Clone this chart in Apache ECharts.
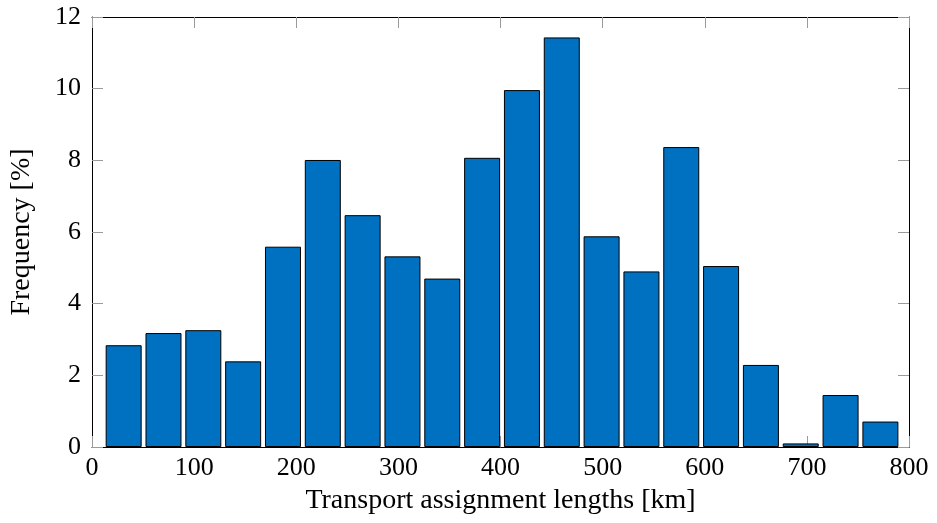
<!DOCTYPE html>
<html>
<head>
<meta charset="utf-8">
<script src="https://cdn.jsdelivr.net/npm/echarts@6/dist/echarts.min.js"></script>
<style>
    html, body { margin: 0; padding: 0; background: #fff; }
    #chart { width: 937px; height: 523px; }
</style>
</head>
<body>
<div id="chart"></div>
<script>
// bin centres [km] and frequency per bin [%]
const binCenters = [31, 70, 109, 148, 187, 226, 265, 304, 343, 382, 421, 460, 499, 538, 577, 616, 655, 694, 733, 772]
const frequencies = [2.84, 3.18, 3.26, 2.39, 5.59, 8.01, 6.47, 5.32, 4.70, 8.07, 9.96, 11.43, 5.88, 4.90, 8.37, 5.05, 2.29, 0.10, 1.45, 0.71]
const xRange = [0, 800, 100]
const yRange = [0, 12, 2]

const font = '"Liberation Serif", "Times New Roman", serif'

let myChart = echarts.init(document.getElementById('chart'))

let tickStyle = { show: true, inside: true, length: 11, lineStyle: { color: '#9a9a9a', width: 1 } }
let lineStyle = { show: true, onZero: false, lineStyle: { color: '#000', width: 1 } }

let option = {
    animation: false,
    grid: { left: 91, right: 28, top: 17, bottom: 76, containLabel: false },
    xAxis: [{
        type: 'value',
        min: xRange[0], max: xRange[1], interval: xRange[2],
        position: 'bottom',
        name: 'Transport assignment lengths [km]',
        nameLocation: 'middle',
        nameGap: 40,
        nameTextStyle: { fontFamily: font, fontSize: 28, color: '#000' },
        axisLine: lineStyle,
        axisTick: tickStyle,
        axisLabel: { fontFamily: font, fontSize: 26, color: '#000', margin: 8 },
        splitLine: { show: false }
    }, {
        type: 'value',
        min: xRange[0], max: xRange[1], interval: xRange[2],
        position: 'top',
        axisLine: lineStyle,
        axisTick: tickStyle,
        axisLabel: { show: false },
        splitLine: { show: false }
    }],
    yAxis: [{
        type: 'value',
        min: yRange[0], max: yRange[1], interval: yRange[2],
        position: 'left',
        name: 'Frequency [%]',
        nameLocation: 'middle',
        nameGap: 56,
        nameTextStyle: { fontFamily: font, fontSize: 28, color: '#000' },
        axisLine: lineStyle,
        axisTick: tickStyle,
        axisLabel: { fontFamily: font, fontSize: 26, color: '#000', margin: 11 },
        splitLine: { show: false }
    }, {
        type: 'value',
        min: yRange[0], max: yRange[1], interval: yRange[2],
        position: 'right',
        axisLine: lineStyle,
        axisTick: tickStyle,
        axisLabel: { show: false },
        splitLine: { show: false }
    }],
    series: [{
        type: 'bar',
        xAxisIndex: 0,
        yAxisIndex: 0,
        barWidth: 36,
        data: binCenters.map((x, i) => [x, frequencies[i]]),
        itemStyle: { color: '#0070c0', borderColor: '#000', borderWidth: 1 }
    }]
}

myChart.setOption(option)
</script>
</body>
</html>
